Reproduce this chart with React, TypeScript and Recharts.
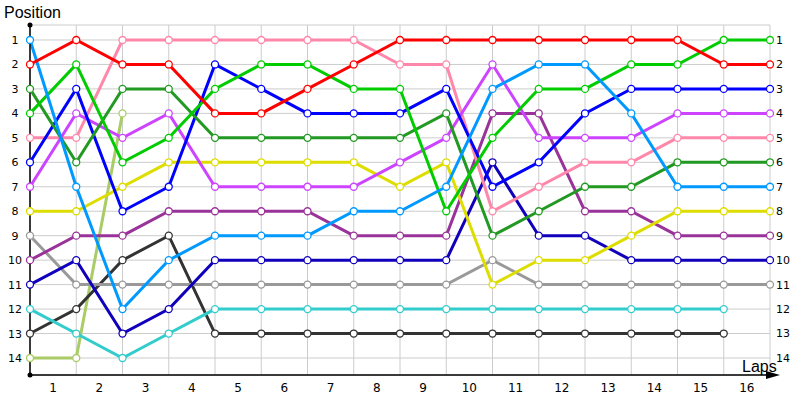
import React from 'react';
import { LineChart, Line, XAxis, YAxis, CartesianGrid } from 'recharts';

// positions per driver, one value per lap boundary (0 = start)
const laps = [0, 1, 2, 3, 4, 5, 6, 7, 8, 9, 10, 11, 12, 13, 14, 15, 16];
const lapTicks = [0.5, 1.5, 2.5, 3.5, 4.5, 5.5, 6.5, 7.5, 8.5, 9.5, 10.5, 11.5, 12.5, 13.5, 14.5, 15.5];
const positionTicks = [1, 2, 3, 4, 5, 6, 7, 8, 9, 10, 11, 12, 13, 14];

const red = [2, 1, 2, 2, 4, 4, 3, 2, 1, 1, 1, 1, 1, 1, 1, 2, 2];
const skyBlue = [1, 7, 12, 10, 9, 9, 9, 8, 8, 7, 3, 2, 2, 4, 7, 7, 7];
const green = [4, 2, 6, 5, 3, 2, 2, 3, 3, 8, 5, 3, 3, 2, 2, 1, 1];
const forest = [3, 6, 3, 3, 5, 5, 5, 5, 5, 4, 9, 8, 7, 7, 6, 6, 6];
const blue = [6, 3, 8, 7, 2, 3, 4, 4, 4, 3, 7, 6, 4, 3, 3, 3, 3];
const violet = [7, 4, 5, 4, 7, 7, 7, 7, 6, 5, 2, 5, 5, 5, 4, 4, 4];
const pink = [5, 5, 1, 1, 1, 1, 1, 1, 2, 2, 8, 7, 6, 6, 5, 5, 5];
const yellow = [8, 8, 7, 6, 6, 6, 6, 6, 7, 6, 11, 10, 10, 9, 8, 8, 8];
const purple = [10, 9, 9, 8, 8, 8, 8, 9, 9, 9, 4, 4, 8, 8, 9, 9, 9];
const navy = [11, 10, 13, 12, 10, 10, 10, 10, 10, 10, 6, 9, 9, 10, 10, 10, 10];
const gray = [9, 11, 11, 11, 11, 11, 11, 11, 11, 11, 10, 11, 11, 11, 11, 11, 11];
const cyan = [12, 13, 14, 13, 12, 12, 12, 12, 12, 12, 12, 12, 12, 12, 12, 12];
const charcoal = [13, 12, 10, 9, 13, 13, 13, 13, 13, 13, 13, 13, 13, 13, 13, 13];
const olive = [14, 14, 4];

const series = [
  { key: 'olive', values: olive, color: '#aacc66' },
  { key: 'charcoal', values: charcoal, color: '#333333' },
  { key: 'cyan', values: cyan, color: '#33cccc' },
  { key: 'gray', values: gray, color: '#999999' },
  { key: 'navy', values: navy, color: '#1100bb' },
  { key: 'purple', values: purple, color: '#993399' },
  { key: 'yellow', values: yellow, color: '#dddd00' },
  { key: 'pink', values: pink, color: '#ff88aa' },
  { key: 'violet', values: violet, color: '#cc44ff' },
  { key: 'blue', values: blue, color: '#0000ff' },
  { key: 'forest', values: forest, color: '#229922' },
  { key: 'green', values: green, color: '#00cc00' },
  { key: 'skyBlue', values: skyBlue, color: '#0099ff' },
  { key: 'red', values: red, color: '#ff0000' },
];

const data = laps.map((lap, i) => {
  const row: Record<string, number | null> = { lap };
  series.forEach((s) => {
    row[s.key] = i < s.values.length ? s.values[i] : null;
  });
  return row;
});

const font = 'DejaVu Sans, Verdana, sans-serif';

const LeftTick = (props: any) => {
  const { x, y, payload } = props;
  return (
    <text x={x} y={y} dy={4} textAnchor="middle" fontSize={11} fontFamily={font} fill="#000">
      {payload.value}
    </text>
  );
};

const App: React.FC = () => {
  return (
    <div style={{ position: 'absolute', left: 0, top: 0, width: 800, height: 400, background: '#fff' }}>
      <div
        style={{
          position: 'absolute', left: 4, top: 4, fontSize: 16,
          fontFamily: 'Liberation Sans, Arial, sans-serif', color: '#000',
        }}
      >
        Position
      </div>
      <LineChart width={800} height={400} data={data} margin={{ top: 25, right: 0, bottom: 0, left: 0 }}>
        <CartesianGrid stroke="#cccccc" strokeWidth={1} xAxisId="grid" />
        <XAxis
          xAxisId="grid"
          dataKey="lap"
          type="number"
          domain={[0, 16]}
          ticks={laps}
          hide
        />
        <XAxis
          dataKey="lap"
          type="number"
          domain={[0, 16]}
          ticks={lapTicks}
          tickFormatter={(v: number) => String(v + 0.5)}
          height={25}
          tickLine={false}
          tickSize={0}
          tickMargin={8}
          axisLine={{ stroke: '#000', strokeWidth: 1.5 }}
          tick={{ fontSize: 12, fontFamily: font, fill: '#000' }}
          interval={0}
        />
        <YAxis
          type="number"
          reversed
          domain={[0.387, 14.695]}
          ticks={positionTicks}
          width={30}
          tickLine={false}
          tickSize={0}
          tickMargin={15}
          axisLine={{ stroke: '#000', strokeWidth: 1.5 }}
          tick={<LeftTick />}
          interval={0}
          allowDataOverflow
        />
        <YAxis
          yAxisId="right"
          orientation="right"
          type="number"
          reversed
          domain={[0.387, 14.695]}
          ticks={positionTicks}
          width={30}
          tickLine={false}
          tickSize={0}
          tickMargin={6}
          axisLine={false}
          tick={{ fontSize: 11, fontFamily: font, fill: '#000' }}
          interval={0}
          allowDataOverflow
        />
        {series.map((s) => (
          <Line
            key={s.key}
            dataKey={s.key}
            type="linear"
            stroke={s.color}
            strokeWidth={3}
            dot={{ r: 3.5, fill: '#fff', stroke: s.color, strokeWidth: 1.3 }}
            activeDot={false}
            connectNulls={false}
            isAnimationActive={false}
          />
        ))}
      </LineChart>
      <svg width={800} height={400} style={{ position: 'absolute', left: 0, top: 0, pointerEvents: 'none' }}>
        <circle cx={30} cy={25} r={2.5} fill="#000" />
        <circle cx={30} cy={375} r={2.5} fill="#000" />
        <line x1={770} y1={375} x2={772} y2={375} stroke="#000" strokeWidth={1.5} />
        <polygon points="766,371 780,375 766,379" fill="#000" />
        <text x={742} y={372} fontSize={16} fontFamily="Liberation Sans, Arial, sans-serif" fill="#000">
          Laps
        </text>
      </svg>
    </div>
  );
};

export default App;
